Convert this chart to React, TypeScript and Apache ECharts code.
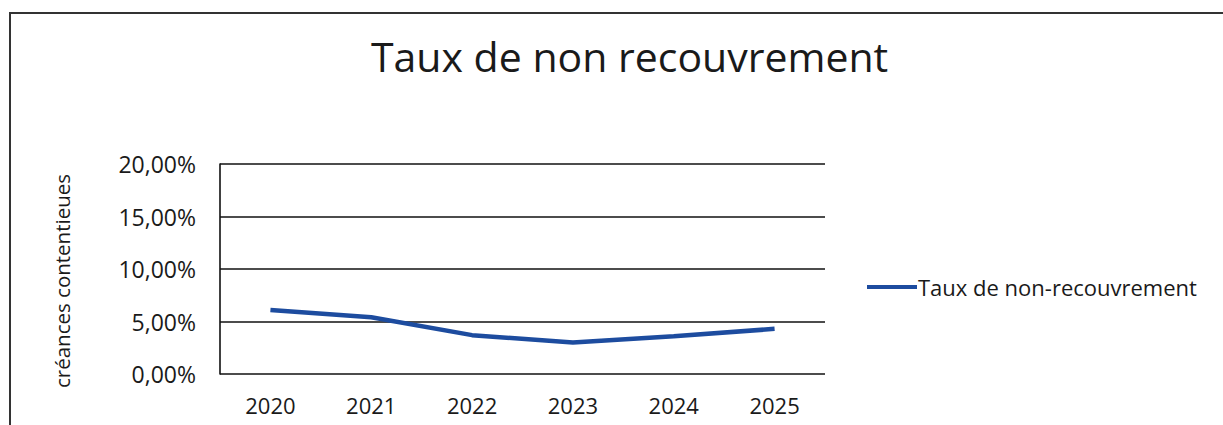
import React, { useEffect, useRef } from "react";
import * as echarts from "echarts";

const years = ["2020", "2021", "2022", "2023", "2024", "2025"];
const tauxNonRecouvrement = [6.1, 5.4, 3.7, 3.0, 3.6, 4.3];
const yTicks = { min: 0, max: 20, interval: 5 };
const titleText = "Taux de non recouvrement";
const seriesName = "Taux de non-recouvrement";
const yAxisName = "créances contentieues";

const FONT = "'Open Sans', 'Noto Sans', sans-serif";

export default function App() {
  const ref = useRef<HTMLDivElement>(null);
  useEffect(() => {
    if (!ref.current) return;
    const chart = echarts.init(ref.current, undefined, { renderer: "svg" });
    chart.setOption({
      animation: false,
      backgroundColor: "#ffffff",
      title: {
        text: titleText,
        left: 366,
        top: 30,
        textStyle: { fontFamily: FONT, fontSize: 41, fontWeight: "normal", color: "#1a1a1a" },
      },
      graphic: [
        {
          type: "rect",
          shape: { x: 10, y: 13, width: 1400, height: 600 },
          style: { fill: "none", stroke: "#333", lineWidth: 2 },
          silent: true,
        },
      ],
      legend: {
        data: [seriesName],
        left: 862,
        top: 271,
        itemWidth: 50,
        itemHeight: 4,
        itemGap: 0,
        icon: "rect",
        textStyle: { fontFamily: FONT, fontSize: 22, color: "#1a1a1a", padding: [0, 0, 0, -4] },
      },
      grid: { left: 220, top: 164, right: 398, bottom: 51, containLabel: false },
      xAxis: {
        type: "category",
        data: years,
        boundaryGap: true,
        axisLine: { show: false },
        axisTick: { show: false },
        axisLabel: { fontFamily: FONT, fontSize: 22, color: "#1a1a1a", margin: 20 },
      },
      yAxis: {
        type: "value",
        min: yTicks.min,
        max: yTicks.max,
        interval: yTicks.interval,
        name: yAxisName,
        nameLocation: "middle",
        nameRotate: 90,
        nameGap: 148,
        nameTextStyle: { fontFamily: FONT, fontSize: 20.5, color: "#1a1a1a", padding: [0, 0, 0, -24] },
        axisLine: { show: true, lineStyle: { color: "#111", width: 1.6 } },
        axisTick: { show: false },
        splitLine: { show: true, lineStyle: { color: "#111", width: 1.6 } },
        axisLabel: {
          fontFamily: FONT,
          fontSize: 23,
          color: "#1a1a1a",
          margin: 24,
          formatter: (v: number) => v.toFixed(2).replace(".", ",") + "%",
        },
      },
      series: [
        {
          name: seriesName,
          type: "line",
          data: tauxNonRecouvrement,
          showSymbol: false,
          symbol: "none",
          lineStyle: { color: "#1d4c9f", width: 4.5 },
          itemStyle: { color: "#1d4c9f" },
        },
      ],
    });
    return () => chart.dispose();
  }, []);
  return (
    <div
      ref={ref}
      style={{ position: "fixed", left: 0, top: 0, width: 1223, height: 425 }}
    />
  );
}
